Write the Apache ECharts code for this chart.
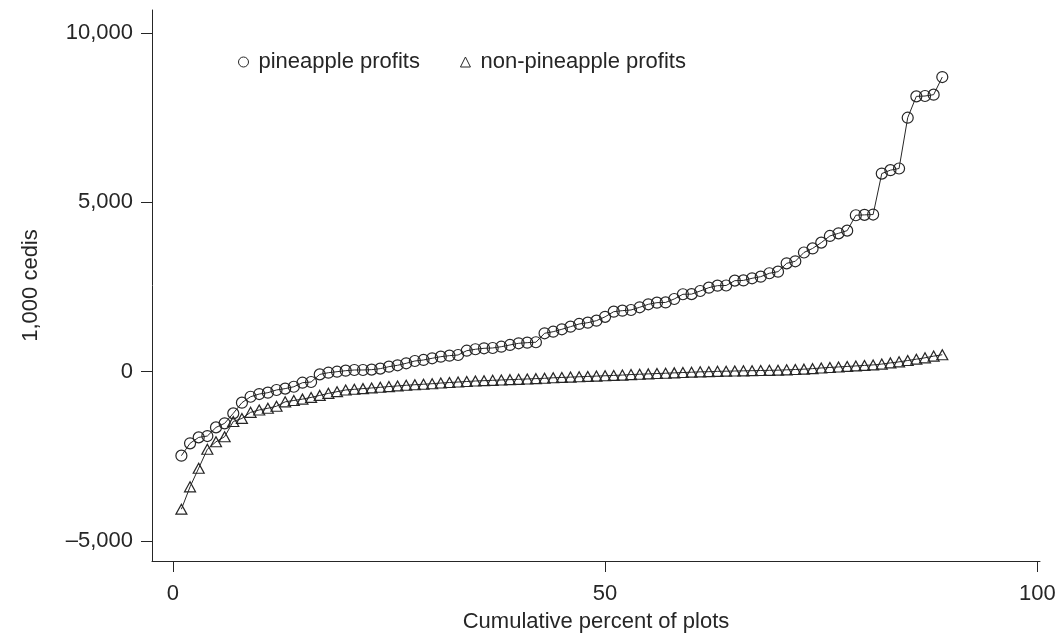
<!DOCTYPE html>
<html>
<head>
<meta charset="utf-8">
<script src="https://cdn.jsdelivr.net/npm/echarts@6/dist/echarts.min.js"></script>
<style>
  html, body { margin: 0; padding: 0; background: #fff; }
  #chart { width: 1058px; height: 636px; }
</style>
</head>
<body>
<div id="chart"></div>
<script>
// cumulative percent of plots (x) and profits in 1,000 cedis (y)
const pctPlots = Array.from({ length: 89 }, (_, i) => i + 1);

const pineapple = [
  -2480, -2115, -1940, -1900, -1645, -1525, -1230, -915, -740, -660,
  -620, -540, -500, -445, -325, -305, -80, -30, 0, 30,
  50, 50, 60, 90, 148, 189, 248, 316, 346, 396,
  443, 473, 493, 620, 662, 691, 700, 738, 789, 838,
  857, 870, 1134, 1181, 1252, 1329, 1409, 1447, 1506, 1620,
  1772, 1802, 1822, 1901, 1990, 2038, 2045, 2147, 2286, 2290,
  2383, 2481, 2540, 2545, 2688, 2695, 2758, 2806, 2906, 2953,
  3200, 3260, 3520, 3640, 3811, 4008, 4086, 4165, 4620, 4630,
  4640, 5850, 5950, 6000, 7500, 8130, 8140, 8180, 8700
];

const nonPineapple = [
  -4060, -3400, -2850, -2290, -2070, -1920, -1470, -1380, -1200, -1130,
  -1080, -1020, -890, -850, -810, -760, -700, -640, -590, -540,
  -520, -500, -480, -460, -440, -420, -400, -385, -370, -355,
  -335, -320, -305, -290, -275, -265, -255, -245, -235, -225,
  -215, -205, -195, -180, -170, -160, -150, -140, -130, -120,
  -110, -100, -85, -75, -65, -55, -45, -35, -25, -15,
  -5, 0, 10, 15, 20, 25, 30, 35, 40, 45,
  55, 65, 75, 90, 110, 125, 140, 155, 170, 185,
  200, 225, 260, 290, 330, 370, 410, 460, 500
];

const xTicks = [0, 50, 100];
const yTicks = [-5000, 0, 5000, 10000];

const ink = '#262626';
const font = 'Liberation Sans, Arial, sans-serif';

const chart = echarts.init(document.getElementById('chart'));

function fmtY(v) {
  const s = Math.abs(v).toLocaleString('en-US');
  return (v < 0 ? '\u2013' : '') + s;
}

function makeSeries(name, values, symbol) {
  return {
    name,
    type: 'line',
    data: pctPlots.map((x, i) => [x, values[i]]),
    symbol,
    symbolSize: symbol === 'triangle' ? [11, 10] : 11,
    showSymbol: true,
    lineStyle: { color: ink, width: 1 },
    itemStyle: { color: 'rgba(255,255,255,0)', borderColor: ink, borderWidth: 1.2 },
    emphasis: { disabled: true },
    animation: false
  };
}

const option = {
  animation: false,
  grid: { left: 152, right: 18, top: 10, bottom: 75, outerBoundsMode: 'none' },
  legend: {
    left: 233,
    top: 46,
    itemGap: 40,
    itemWidth: 10,
    itemHeight: 10,
    textStyle: { fontFamily: font, fontSize: 22, color: ink, padding: [0, 0, 0, 5] },
    data: [
      { name: 'pineapple profits', icon: 'circle', itemStyle: { color: '#fff', borderColor: ink, borderWidth: 1 } },
      { name: 'non-pineapple profits', icon: 'triangle', itemStyle: { color: '#fff', borderColor: ink, borderWidth: 1 } }
    ],
    selectedMode: false
  },
  xAxis: {
    type: 'value',
    min: -2.4,
    max: 100.3,
    name: 'Cumulative percent of plots',
    nameLocation: 'middle',
    nameGap: 50,
    nameTextStyle: { fontFamily: font, fontSize: 22, color: ink },
    axisLine: { show: true, onZero: false, lineStyle: { color: ink, width: 1 } },
    axisTick: { show: true, customValues: xTicks, length: 11, lineStyle: { color: ink } },
    axisLabel: { customValues: xTicks, fontFamily: font, fontSize: 22, color: ink, margin: 22 },
    splitLine: { show: false }
  },
  yAxis: {
    type: 'value',
    min: -5590,
    max: 10680,
    name: '1,000 cedis',
    nameLocation: 'middle',
    nameGap: 110,
    nameTextStyle: { fontFamily: font, fontSize: 22, color: ink },
    axisLine: { show: true, onZero: false, lineStyle: { color: ink, width: 1 } },
    axisTick: { show: true, customValues: yTicks, length: 11, lineStyle: { color: ink } },
    axisLabel: { customValues: yTicks, formatter: fmtY, fontFamily: font, fontSize: 22, color: ink, margin: 19 },
    splitLine: { show: false }
  },
  series: [
    makeSeries('pineapple profits', pineapple, 'circle'),
    makeSeries('non-pineapple profits', nonPineapple, 'triangle')
  ]
};

chart.setOption(option);
window.addEventListener('resize', () => chart.resize());
</script>
</body>
</html>
